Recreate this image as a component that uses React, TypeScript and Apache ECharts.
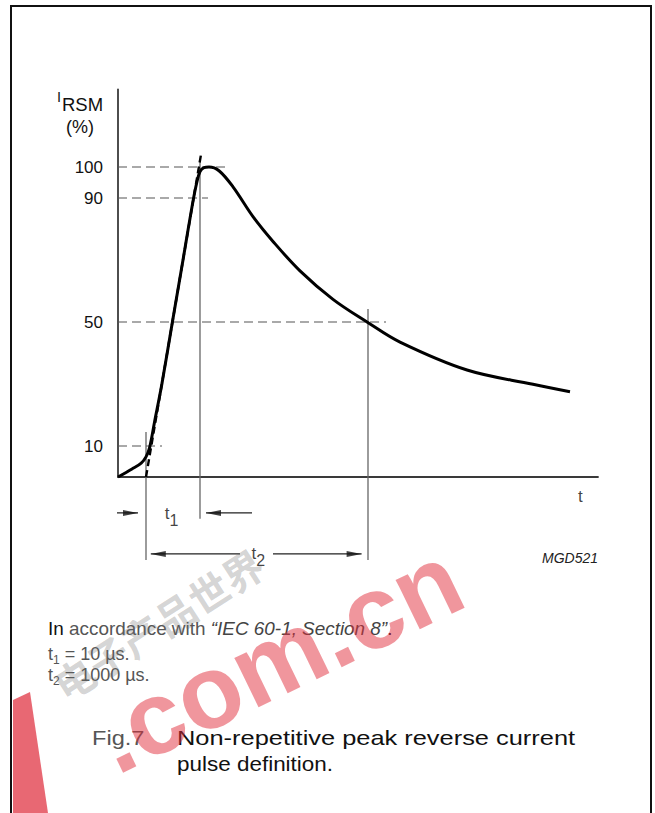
import React, { useEffect, useRef } from "react";
import * as echarts from "echarts";

// ---- data ----
// pulse curve: t in arbitrary drawing units, I_RSM in %
const pulseT = [0, 3.5, 5.8, 7, 7.9, 9.1, 10.97, 13.6, 16.25, 17.55, 18.9, 19.7, 20.5, 21.5, 22.75, 25.25, 28.75, 33.75, 38.75, 45.5, 53.75, 62.25, 70.5, 87.25, 103.75, 113];
const pulseI = [0, 2.6, 4.5, 6.5, 9.5, 17.5, 30, 50, 70, 80, 90, 95, 98.5, 99.8, 100, 98.8, 93.6, 84, 76, 66.5, 57.3, 50, 43.5, 34.5, 29.9, 27.5];
// front tangent through 10 % and 90 %
const frontT = [7, 20.75];
const frontI = [0, 104];
// y tick labels
const yTickValues = [10, 50, 90, 100];
// horizontal dashed reference levels
const levelValues = [100, 90, 50, 10];
const levelEnds = [27.5, 22.5, 67, 11];
// vertical reference lines
const markerT = [7, 20.5, 62.5];
const markerTop = [14.5, 102, 54.2];
const markerBottom = [-26.8, -13.5, -26.8];
// dimension arrows (t1, t2)
const arrowFrom = [-6.5, 33.5, 30.5, 38.75];
const arrowTip = [5, 22, 8.2, 60.9];
const arrowLevel = [-11.6, -11.6, -24.8, -24.8];
const dimLabels = ["1", "2"];
const dimLabelT = [13.4, 35.1];
const dimLabelI = [-11.9, -24.8];
// time-axis name position
const axisNameT = 115.6;
const axisNameI = -6.45;

const F = "'Liberation Sans', Arial, Helvetica, sans-serif";

function buildOption() {
  const lineBase: any = { type: "line", symbol: "none", clip: false, silent: true, z: 2 };
  const series: any[] = [];
  series.push({
    ...lineBase,
    name: "pulse",
    data: pulseT.map((t, i) => [t, pulseI[i]]),
    smooth: 0.35,
    lineStyle: { color: "#000", width: 3 },
    z: 5,
  });
  series.push({
    ...lineBase,
    name: "front",
    data: frontT.map((t, i) => [t, frontI[i]]),
    lineStyle: { color: "#000", width: 2.4, type: [7, 4] },
    z: 4,
  });
  levelValues.forEach((v, i) =>
    series.push({
      ...lineBase,
      data: [[0, v], [levelEnds[i], v]],
      lineStyle: { color: "#555", width: 1.2, type: [9, 5] },
    })
  );
  markerT.forEach((t, i) =>
    series.push({
      ...lineBase,
      data: [[t, markerTop[i]], [t, markerBottom[i]]],
      lineStyle: { color: "#666", width: 1.3 },
    })
  );
  arrowFrom.forEach((f, i) =>
    series.push({
      ...lineBase,
      data: [[f, arrowLevel[i]], [arrowTip[i], arrowLevel[i]]],
      lineStyle: { color: "#222", width: 1.3 },
    })
  );
  series.push({
    type: "scatter",
    clip: false,
    silent: true,
    symbol: "triangle",
    symbolSize: [6, 15],
    itemStyle: { color: "#111" },
    z: 3,
    data: arrowTip.map((tip, i) => {
      const dir = Math.sign(tip - arrowFrom[i]);
      return { value: [tip - dir * 1.875, arrowLevel[i]], symbolRotate: dir > 0 ? -90 : 90 };
    }),
  });
  const labelData: any[] = dimLabels.map((s, i) => ({
    value: [dimLabelT[i], dimLabelI[i]],
    label: { formatter: "{t|t}{s|" + s + "}" },
  }));
  labelData.push({ value: [axisNameT, axisNameI], label: { formatter: "{t|t}" } });
  series.push({
    type: "scatter",
    clip: false,
    silent: true,
    symbol: "circle",
    symbolSize: 1,
    itemStyle: { color: "rgba(0,0,0,0)" },
    z: 3,
    label: {
      show: true,
      position: "inside",
      color: "#111",
      rich: {
        t: { fontSize: 17, fontFamily: F, color: "#111" },
        s: { fontSize: 16, fontFamily: F, color: "#111", padding: [14, 0, 0, 0] },
      },
    },
    data: labelData,
  });

  const capRich = {
    b: { fontSize: 18, fontFamily: F, fill: "#111" },
    g: { fontSize: 18, fontFamily: F, fill: "#555" },
    i: { fontSize: 18, fontFamily: F, fontStyle: "italic", fill: "#444" },
    t: { fontSize: 18, fontFamily: F, fill: "#555" },
    s: { fontSize: 12, fontFamily: F, fill: "#555", padding: [12, 0, 0, 0] },
  };

  const graphic: any[] = [
    { type: "rect", silent: true, z: 0, shape: { x: 11, y: 6, width: 640, height: 900 }, style: { fill: "none", stroke: "#111", lineWidth: 2 } },
    { type: "text", x: 57, y: 97, style: { text: "I", fontSize: 14.5, fontFamily: F, fill: "#111", align: "left", verticalAlign: "middle" } },
    { type: "text", x: 62, y: 104, style: { text: "RSM", fontSize: 18.5, fontFamily: F, fill: "#111", align: "left", verticalAlign: "middle" } },
    { type: "text", x: 66, y: 127, style: { text: "(%)", fontSize: 18, fontFamily: F, fill: "#111", align: "left", verticalAlign: "middle" } },
    { type: "text", x: 598, y: 558, style: { text: "MGD521", fontSize: 14, fontStyle: "italic", fontFamily: F, fill: "#222", align: "right", verticalAlign: "middle" } },
    { type: "text", x: 48, y: 629, scaleX: 1.05, style: { text: "{b|In }{g|accordance with }{i|“IEC 60-1, Section 8”}{b|.}", rich: capRich, align: "left", verticalAlign: "middle" } },
    { type: "text", x: 48, y: 654, style: { text: "{t|t}{s|1}{g| = 10 µs.}", rich: capRich, align: "left", verticalAlign: "middle" } },
    { type: "text", x: 48, y: 675, style: { text: "{t|t}{s|2}{g| = 1000 µs.}", rich: capRich, align: "left", verticalAlign: "middle" } },
    { type: "text", x: 92, y: 738, scaleX: 1.15, style: { text: "Fig.7", fontSize: 20.5, fontFamily: F, fill: "#555", align: "left", verticalAlign: "middle" } },
    { type: "text", x: 177, y: 738, scaleX: 1.21, style: { text: "Non-repetitive peak reverse current", fontSize: 21, fontFamily: F, fill: "#111", align: "left", verticalAlign: "middle" } },
    { type: "text", x: 177, y: 764, scaleX: 1.07, style: { text: "pulse definition.", fontSize: 21, fontFamily: F, fill: "#111", align: "left", verticalAlign: "middle" } },
    // watermark
    { type: "text", x: 158, y: 624, rotation: 0.57, silent: true, z: 50, style: { text: "电子产品世界", fontSize: 40, fontWeight: "bold", fontFamily: "'Noto Sans CJK SC', sans-serif", fill: "rgba(110,110,110,0.3)", align: "center", verticalAlign: "middle" } },
    { type: "text", x: 278, y: 658, rotation: 0.45, silent: true, z: 50, style: { text: ".com.cn", fontSize: 104, fontWeight: "bold", fontFamily: F, fill: "rgba(225,45,60,0.5)", align: "center", verticalAlign: "middle" } },
    { type: "polygon", silent: true, z: 50, shape: { points: [[13, 700], [30, 692], [48, 813], [13, 813]] }, style: { fill: "rgba(222,40,55,0.7)" } },
  ];

  return {
    animation: false,
    backgroundColor: "#fff",
    textStyle: { fontFamily: F },
    grid: { left: 118, top: 89.5, width: 480, height: 387.5, containLabel: false },
    xAxis: {
      type: "value",
      min: 0,
      max: 120,
      axisLine: { show: true, onZero: true, lineStyle: { color: "#3a3a3a", width: 1.8 } },
      axisTick: { show: false },
      axisLabel: { show: false },
      splitLine: { show: false },
    },
    yAxis: {
      type: "value",
      min: 0,
      max: 125,
      axisLine: { show: true, lineStyle: { color: "#3a3a3a", width: 1.8 } },
      axisTick: { show: false },
      axisLabel: { show: true, customValues: yTickValues, margin: 15, fontSize: 17, color: "#111", fontFamily: F },
      splitLine: { show: false },
    },
    series,
    graphic,
  };
}

export default function App() {
  const ref = useRef<HTMLDivElement>(null);
  useEffect(() => {
    if (!ref.current) return;
    const chart = echarts.init(ref.current, null, { renderer: "svg" });
    chart.setOption(buildOption() as any);
    return () => chart.dispose();
  }, []);
  return (
    <div
      ref={ref}
      style={{ position: "absolute", left: 0, top: 0, width: 655, height: 813, background: "#fff" }}
    />
  );
}
